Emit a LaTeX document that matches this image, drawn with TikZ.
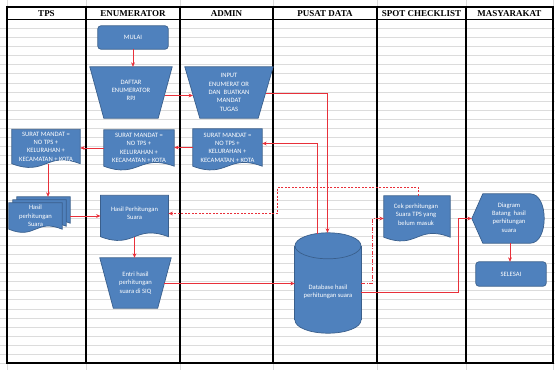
\documentclass[tikz,border=0pt]{standalone}
\usepackage{fontspec}
\setmainfont{Liberation Serif}
\newfontfamily\shapefont{Carlito}
\usetikzlibrary{arrows.meta,calc}

\definecolor{boxblue}{HTML}{4F81BD}
\definecolor{boxedge}{HTML}{3A5F8C}
\definecolor{flow}{HTML}{E8303A}
\definecolor{gridgrey}{HTML}{DCDCDC}

\pgfdeclarelayer{sheet}
\pgfdeclarelayer{bodies}
\pgfsetlayers{sheet,bodies,main}

% filled outlines drawn behind the text holders
\newcommand\trapbody[2]{% node, bottom inset
  \path[body] (#1.north west) -- (#1.north east) -- ($(#1.south east)+(-#2,0)$)
    -- ($(#1.south west)+(#2,0)$) -- cycle;}
\newcommand\docbody[2]{% node, wave control offset
  \path[body] let \p1=(#1.north west), \p2=(#1.south east), \n1={\x2-\x1} in
    (\p1) -- (\x2,\y1) -- (\p2)
    .. controls ({\x2-0.5*\n1},{\y2+#2}) and ({\x1+0.5*\n1},{\y2-#2}) .. (\x1,\y2) -- cycle;}
\newcommand\roundbody[1]{%
  \path[body, rounded corners=3pt] (#1.north west) rectangle (#1.south east);}
\newcommand\cylbody[3]{% node, x radius, y radius
  \path[body] ($(#1.south)+(0,-#3)$) ellipse [x radius=#2, y radius=#3];
  \fill[boxblue] ($(#1.south west)+(0,-#3)$) rectangle ($(#1.north east)+(0,#3)$);
  \draw[boxedge, line width=0.7pt] ($(#1.south west)+(0,-#3)$) -- ($(#1.north west)+(0,#3)$)
    ($(#1.south east)+(0,-#3)$) -- ($(#1.north east)+(0,#3)$);
  \path[body] ($(#1.north)+(0,#3)$) ellipse [x radius=#2, y radius=#3];}
\newcommand\dispbody[1]{%
  \path[body] (#1.west) -- ($(#1.north west)+(11,0)$) -- ($(#1.north east)+(-14,0)$)
    .. controls ($(#1.north east)+(4.7,0)$) and ($(#1.south east)+(4.7,0)$) .. ($(#1.south east)+(-14,0)$)
    -- ($(#1.south west)+(11,0)$) -- cycle;}

\begin{document}
\begin{tikzpicture}[x=1pt,y=-1pt,
  body/.style={fill=boxblue, draw=boxedge, line width=0.7pt},
  box/.style 2 args={inner sep=0pt, minimum width=#1pt, minimum height=#2pt,
    text=white, align=center, font=\shapefont\fontsize{6.6}{8.3}\selectfont},
  words/.style={inner sep=0pt, text=white, align=center, font=\shapefont\fontsize{6.6}{8.3}\selectfont},
  head/.style={inner sep=0pt, font=\fontsize{9}{10}\selectfont\bfseries},
  arr/.style={draw=flow, color=flow, line width=0.9pt, -{Stealth[length=4.5pt,width=3.8pt]}},
  dashdot/.style={dash pattern=on 4pt off 1.5pt on 1pt off 1.5pt},
  dots/.style={dash pattern=on 2pt off 1.5pt}]
\useasboundingbox (0,0) rectangle (555,370);

% spreadsheet grid and swimlane table
\begin{pgfonlayer}{sheet}
  \fill[white] (0,0) rectangle (555,370);
  \foreach \k in {1,...,38}
    \draw[gridgrey, line width=0.5pt] (0,{19.5+9.04*\k}) -- (555,{19.5+9.04*\k});
  \foreach \x in {7,86,180,273,377,466,553}
    \draw[gridgrey, line width=0.5pt] (\x,0) -- (\x,370);
  \draw[line width=1.1pt] (7,7) rectangle (553,363);
  \draw[line width=0.9pt] (7,19.5) -- (553,19.5);
  \foreach \x in {86,180,273,377,466}
    \draw[line width=1.1pt] (\x,7) -- (\x,363);
\end{pgfonlayer}

% lane titles
\node[head] (hTps)  at (46.5,13.4)  {TPS};
\node[head] (hEnum) at (133,13.4)   {ENUMERATOR};
\node[head] (hAdm)  at (226.5,13.4) {ADMIN};
\node[head] (hPus)  at (325,13.4)   {PUSAT DATA};
\node[head] (hSpot) at (421.5,13.4) {SPOT CHECKLIST};
\node[head] (hMas)  at (509.5,13.4) {MASYARAKAT};

% process steps
\node[box={70}{23}] (mulai) at (133,37.5) {MULAI};
\node[box={82}{51}] (daftar) at (131,92.5) {};
\node[words] (daftartxt) at (131,90.5) {DAFTAR\\ENUMERATOR\\RPJ};
\node[box={88}{51}] (input) at (229,92.5) {INPUT\\ENUMERAT OR\\DAN\ \ BUATKAN\\MANDAT\\TUGAS};

\node[box={69}{37}] (smA) at (227.5,147.5) {SURAT MANDAT =\\NO TPS +\\KELURAHAN +\\KECAMATAN + KOTA};
\node[box={70}{36}] (smE) at (139,148) {SURAT MANDAT =\\NO TPS +\\KELURAHAN +\\KECAMATAN + KOTA};
\node[box={68}{34}] (smT) at (46,146.5) {SURAT MANDAT =\\NO TPS +\\KELURAHAN +\\KECAMATAN + KOTA};

\node[box={53}{26}] (hasilT3) at (43.5,210) {};
\node[box={53}{26}] (hasilT2) at (39.5,213) {};
\node[box={53}{26}] (hasilT) at (35.5,216) {Hasil\\perhitungan\\Suara};

\node[box={67.5}{41}] (hasilE) at (134.5,216) {};
\node[words] (hasilEtxt) at (134.5,213.5) {Hasil Perhitungan\\Suara};

\node[box={71}{50}] (entri) at (135.5,283) {Entri hasil\\perhitungan\\suara di SIQ};

\node[box={66}{100}] (db) at (328,283) {};
\node[words] (dbtxt) at (328,292) {Database hasil\\perhitungan suara};

\node[box={66}{41}] (cek) at (417,216.5) {};
\node[words] (cektxt) at (416,214.5) {Cek perhitungan\\Suara TPS yang\\belum masuk};

\node[box={72}{49}] (diag) at (508,218.5) {};
\node[words] (diagtxt) at (509,217.5) {Diagram\\Batang\ \ hasil\\perhitungan\\suara};
\node[box={70}{24}] (selesai) at (511,274) {SELESAI};

\begin{pgfonlayer}{bodies}
  \roundbody{mulai}
  \trapbody{daftar}{14}
  \trapbody{input}{15}
  \docbody{smA}{13}
  \docbody{smE}{13}
  \docbody{smT}{13}
  \docbody{hasilT3}{11}
  \docbody{hasilT2}{11}
  \docbody{hasilT}{11}
  \docbody{hasilE}{13}
  \trapbody{entri}{13.5}
  \cylbody{db}{33}{13}
  \docbody{cek}{13}
  \dispbody{diag}
  \roundbody{selesai}
\end{pgfonlayer}

% connectors
\draw[arr] (mulai.south) -- (mulai.south |- daftar.north);
\draw[arr] ($(daftar.east)+(-7.7,3)$) -- ($(input.west)+(8.2,3)$);
\draw[arr] ($(input.east)+(-7.6,1)$) -| ($(db.north)+(-0.5,0)$);
\draw[arr] ($(db.north)+(-10.5,1)$) |- ($(smA.east)+(0,-4)$);
\draw[arr] (smA.west) -- (smA.west -| smE.east);
\draw[arr] (smE.west) -- (smE.west -| smT.east);
\coordinate (tpsdrop) at ($(smT.south)+(2,0)$);
\draw[arr] (tpsdrop) -- (tpsdrop |- hasilT3.north);
\draw[arr] (hasilT3.east |- hasilE.west) -- (hasilE.west);
\draw[arr] (hasilE.south) -- (hasilE.south |- entri.north);
\draw[arr] ($(entri.east)+(-7,0.5)$) -- ($(db.west)+(0,0.5)$);
\coordinate (loopA) at (277.5,187.5);
\draw[arr, dots] ($(cek.north)+(1.5,0)$) |- (loopA) |- ($(hasilE.east)+(0,-2.5)$);
\draw[arr, dashdot] ($(db.east)+(0,0.5)$) -| ($(cek.west)+(-11.5,2)$) -- ($(cek.west)+(0,2)$);
\draw[arr] ($(db.east)+(0,9)$) -| ($(diag.west)+(-13,0)$) -- (diag.west);
\draw[arr] ($(diag.south)+(2,0)$) -- ($(selesai.north)+(-1,0)$);
\end{tikzpicture}
\end{document}
